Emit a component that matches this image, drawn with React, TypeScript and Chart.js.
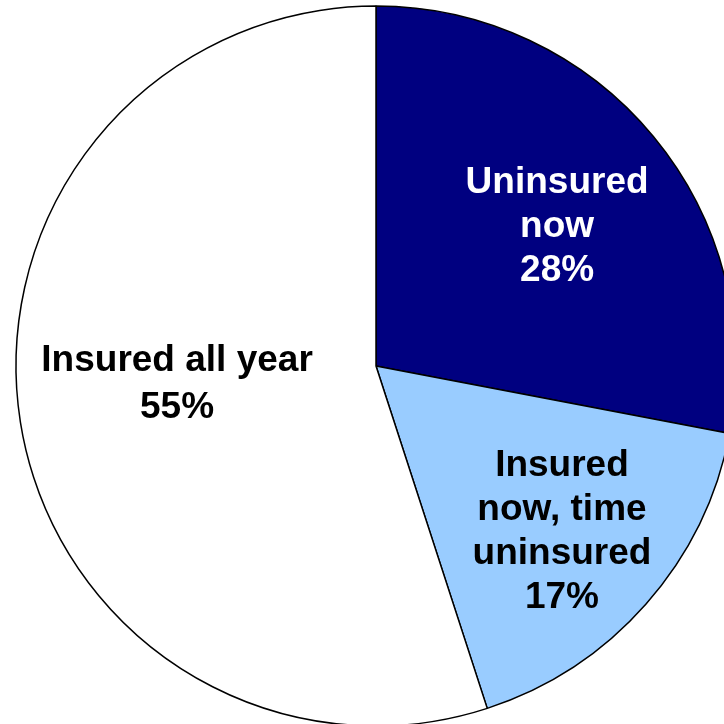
import React, { useEffect, useRef } from "react";
import { Chart, registerables } from "chart.js";

Chart.register(...registerables);

const categories: string[][] = [
  ["Uninsured", "now"],
  ["Insured", "now, time", "uninsured"],
  ["Insured all year"],
];
const values: number[] = [28, 17, 55];
const valueLabels: string[] = ["28%", "17%", "55%"];
const sliceColors: string[] = ["#000080", "#99CCFF", "#FFFFFF"];
const textColors: string[] = ["#FFFFFF", "#000000", "#000000"];
// label placement relative to each arc: radius fraction, angle offset (deg), line height
const labelRadiusFrac: number[] = [0.634, 0.693, 0.555];
const labelAngleOffset: number[] = [2.1, 0.4, 3.7];
const labelLineHeight: number[] = [44, 44, 47];

const labelPlugin = {
  id: "sliceLabels",
  afterDatasetsDraw(chart: any) {
    const ctx = chart.ctx;
    const meta = chart.getDatasetMeta(0);
    meta.data.forEach((arc: any, i: number) => {
      const p = arc.getProps(["x", "y", "startAngle", "endAngle", "outerRadius"], true);
      const mid = (p.startAngle + p.endAngle) / 2 + (labelAngleOffset[i] * Math.PI) / 180;
      const r = p.outerRadius * labelRadiusFrac[i];
      const cx = p.x + Math.cos(mid) * r;
      const cy = p.y + Math.sin(mid) * r;
      const lines = [...categories[i], valueLabels[i]];
      const lh = labelLineHeight[i];
      ctx.save();
      ctx.font = "bold 37px 'Liberation Sans', Arial, sans-serif";
      ctx.fillStyle = textColors[i];
      ctx.textAlign = "center";
      ctx.textBaseline = "middle";
      const startY = cy - ((lines.length - 1) * lh) / 2;
      lines.forEach((ln, k) => ctx.fillText(ln, cx, startY + k * lh));
      ctx.restore();
    });
  },
};

export default function App() {
  const ref = useRef<HTMLCanvasElement | null>(null);
  useEffect(() => {
    if (!ref.current) return;
    const chart = new Chart(ref.current, {
      type: "pie",
      data: {
        labels: categories.map((c) => c.join(" ")),
        datasets: [
          {
            data: values,
            backgroundColor: sliceColors,
            borderColor: "#000000",
            borderWidth: 1.5,
            borderAlign: "center",
          },
        ],
      },
      options: {
        responsive: false,
        animation: false,
        radius: 360,
        layout: { padding: 0 },
        plugins: {
          legend: { display: false },
          tooltip: { enabled: false },
        },
      } as any,
      plugins: [labelPlugin],
    });
    return () => chart.destroy();
  }, []);
  return (
    <div
      style={{
        position: "fixed",
        left: 0,
        top: 0,
        width: 724,
        height: 724,
        overflow: "hidden",
        background: "#FFFFFF",
      }}
    >
      <canvas ref={ref} width={752} height={732} style={{ display: "block", width: 752, height: 732 }} />
    </div>
  );
}
